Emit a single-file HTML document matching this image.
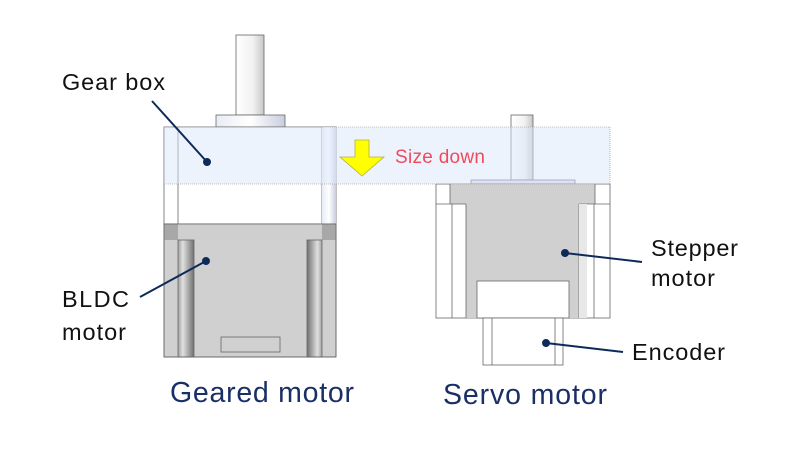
<!DOCTYPE html>
<html><head><meta charset="utf-8"><style>
body{margin:0;background:#fff}
svg{display:block}
text{font-family:"Liberation Sans",sans-serif}
</style></head><body>
<svg width="800" height="450" viewBox="0 0 800 450" xmlns="http://www.w3.org/2000/svg">
<defs>
<linearGradient id="sh" x1="0" x2="1"><stop offset="0" stop-color="#fff"/><stop offset="0.6" stop-color="#f2f2f2"/><stop offset="1" stop-color="#c8c8c8"/></linearGradient>
<linearGradient id="fl" x1="0" x2="1"><stop offset="0" stop-color="#e8ecf5"/><stop offset="0.5" stop-color="#fff"/><stop offset="1" stop-color="#c8cde0"/></linearGradient>
<linearGradient id="dk" x1="0" x2="1"><stop offset="0" stop-color="#a0a0a0"/><stop offset="0.3" stop-color="#e0e0e0"/><stop offset="1" stop-color="#707070"/></linearGradient>
<linearGradient id="dk2" x1="0" x2="1"><stop offset="0" stop-color="#707070"/><stop offset="0.7" stop-color="#e0e0e0"/><stop offset="1" stop-color="#a0a0a0"/></linearGradient>
</defs>
<g stroke="#666" stroke-width="0.8">
<rect x="236" y="35" width="28" height="80" fill="url(#sh)"/>
<rect x="216" y="115" width="69" height="12" fill="url(#fl)"/>
<rect x="164" y="127" width="172" height="97" fill="#fff"/>
<line x1="178" y1="127" x2="178" y2="224"/><line x1="322" y1="127" x2="322" y2="224"/>
<rect x="322" y="127" width="14" height="97" fill="url(#fl)" stroke="none"/>
<rect x="164" y="224" width="172" height="133" fill="#d0d0d0"/>
<rect x="164" y="224" width="172" height="16" fill="#a8a8a8" stroke="none"/>
<rect x="178" y="224" width="144" height="16" fill="#cfcfcf" stroke="none"/>
<rect x="178" y="240" width="16" height="117" fill="url(#dk)"/>
<rect x="307" y="240" width="15" height="117" fill="url(#dk2)"/>
<rect x="164" y="224" width="172" height="133" fill="none"/>
<rect x="221" y="337" width="59" height="15" fill="#d0d0d0"/>
<rect x="511" y="115" width="22" height="65" fill="url(#sh)"/>
<rect x="471" y="180" width="104" height="4" fill="#dde"/>
<rect x="436" y="184" width="174" height="134" fill="#fff"/>
<rect x="450" y="184" width="145" height="20" fill="#d0d0d0" stroke="none"/>
<rect x="466" y="204" width="113" height="114" fill="#d0d0d0" stroke="none"/>
<line x1="450" y1="184" x2="450" y2="204"/><line x1="595" y1="184" x2="595" y2="204"/>
<line x1="436" y1="204" x2="466" y2="204"/><line x1="579" y1="204" x2="610" y2="204"/>
<line x1="452" y1="204" x2="452" y2="318"/><line x1="466" y1="204" x2="466" y2="318"/>
<line x1="579" y1="204" x2="579" y2="318"/><line x1="594" y1="204" x2="594" y2="318"/>
<rect x="579" y="204" width="8" height="114" fill="#e8e8e8" stroke="none"/>
<rect x="477" y="281" width="92" height="37" fill="#fff"/>
<rect x="483" y="318" width="80" height="47" fill="#fff"/>
<line x1="492" y1="318" x2="492" y2="365"/><line x1="555" y1="318" x2="555" y2="365"/>
</g>
<rect x="164" y="127" width="446" height="57" fill="#dce8fb" fill-opacity="0.5" stroke="#888" stroke-width="0.6" stroke-dasharray="1,1"/>
<polygon points="355,140 369,140 369,157 384,157 362,176 340,157 355,157" fill="#ffff00" stroke="#b0b040" stroke-width="0.8"/>
<text x="395" y="163" font-size="19" fill="#f04a5a" textLength="90">Size down</text>
<g stroke="#0e2a5a" stroke-width="2" fill="#0e2a5a">
<line x1="152" y1="101" x2="207" y2="162"/><circle cx="207" cy="162" r="3"/>
<line x1="140" y1="297" x2="206" y2="261"/><circle cx="206" cy="261" r="3"/>
<line x1="642" y1="262" x2="565" y2="253"/><circle cx="565" cy="253" r="3"/>
<line x1="623" y1="352" x2="546" y2="343"/><circle cx="546" cy="343" r="3"/>
</g>
<g font-size="23.5" fill="#111">
<text x="62" y="90" textLength="103">Gear box</text>
<text x="62" y="307" textLength="67">BLDC</text><text x="62" y="340" textLength="64">motor</text>
<text x="651" y="256" textLength="87">Stepper</text><text x="651" y="286" textLength="64">motor</text>
<text x="632" y="360" textLength="93">Encoder</text>
</g>
<g font-size="28.5" fill="#1a2f66">
<text x="170" y="402" textLength="184">Geared motor</text>
<text x="443" y="404" textLength="164">Servo motor</text>
</g>
</svg>
</body></html>
